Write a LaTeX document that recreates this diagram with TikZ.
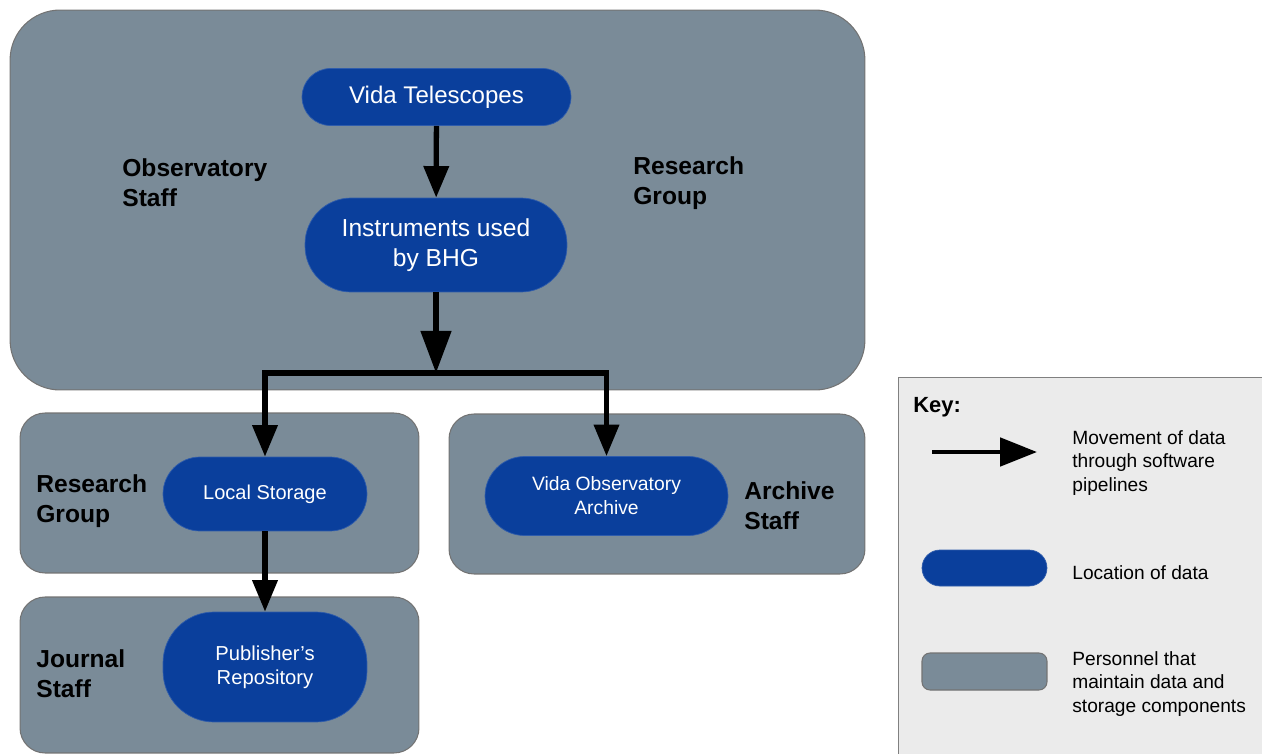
\documentclass[tikz,border=0pt]{standalone}
\usepackage{fontspec}
\setmainfont{Liberation Sans}
\usepackage{tikz}
\usetikzlibrary{arrows.meta}
\definecolor{staffgray}{HTML}{7A8B98}
\definecolor{datablue}{HTML}{0A3F9C}
\definecolor{keygray}{HTML}{EBEBEB}

\tikzset{
  staffbox/.style={draw=black!55, line width=0.6pt, fill=staffgray, inner sep=0pt},
  datapill/.style={draw=datablue!85!white, fill=datablue, text=white, align=center, inner sep=0pt},
  flow/.style={line width=3pt, -{Triangle[length=18pt,width=14pt]}},
  staffname/.style={anchor=west, align=left, inner sep=0pt, font=\fontsize{14}{17}\selectfont\bfseries},
  keytext/.style={anchor=west, align=left, inner sep=0pt, font=\fontsize{10.9}{13.6}\selectfont},
}

\begin{document}
\begin{tikzpicture}[x=0.02cm, y=-0.02cm]
    \clip (0,0) rectangle (1262,754);

    % Personnel boxes
    \node [staffbox, minimum width=17.1cm, minimum height=7.6cm, rounded corners=1cm] (obs) at (437.5,200) {};
    \node [staffbox, minimum width=7.98cm, minimum height=3.2cm, rounded corners=0.5cm] (research) at (219.5,493) {};
    \node [staffbox, minimum width=8.32cm, minimum height=3.2cm, rounded corners=0.5cm] (archive) at (657,494) {};
    \node [staffbox, minimum width=7.98cm, minimum height=3.12cm, rounded corners=0.5cm] (journal) at (219.5,675) {};

    \node [staffname] (obslabel) at (122,183) {Observatory\\Staff};
    \node [staffname] (grplabel) at (633,183) {Research\\Group};
    \node [staffname] (reslabel) at (36,501) {Research\\Group};
    \node [staffname] (arclabel) at (744,506) {Archive\\Staff};
    \node [staffname] (jnllabel) at (36,674) {Journal\\Staff};

    % Locations of data
    \node [datapill, minimum width=5.38cm, minimum height=1.14cm, rounded corners=0.57cm,
      font=\fontsize{13.7}{17}\selectfont] (tele) at (436.5,97) {Vida Telescopes};
    \node [datapill, minimum width=5.24cm, minimum height=1.88cm, rounded corners=0.92cm,
      font=\fontsize{14}{17}\selectfont] (instr) at (436,245) {Instruments used\\by BHG};
    \node [datapill, minimum width=4.08cm, minimum height=1.48cm, rounded corners=0.74cm,
      font=\fontsize{11.4}{13.6}\selectfont] (local) at (265,494) {Local Storage};
    \node [datapill, minimum width=4.86cm, minimum height=1.58cm, rounded corners=0.79cm,
      font=\fontsize{11}{13.6}\selectfont] (voa) at (606.5,496) {Vida Observatory\\Archive};
    \node [datapill, minimum width=4.08cm, minimum height=2.2cm, rounded corners=1.02cm,
      font=\fontsize{11.5}{13.6}\selectfont] (pub) at (265,667) {Publisher's\\Repository};

    % Data flow
    \coordinate (split) at (436,373);
    \draw [flow] (tele) -- (instr);
    \draw [flow, -{Triangle[length=24pt,width=17pt]}] (instr) -- (split);
    \draw [flow] (split) -| (local.north);
    \draw [flow] (split) -| (voa.north);
    \draw [flow] (local) -- (pub);

    % Key
    \node [draw=black!50, line width=0.6pt, fill=keygray, anchor=north west,
      minimum width=7.8cm, minimum height=8cm] (key) at (898,377) {};
    \node [anchor=west, inner sep=0pt, font=\fontsize{12.5}{15}\selectfont\bfseries] (keytitle) at (913,407) {Key:};
    \coordinate (keyA) at (932,452);
    \coordinate (keyB) at (1037,452);
    \draw [line width=2.5pt, -{Triangle[length=21pt,width=16pt]}] (keyA) -- (keyB);
    \node [keytext] (keyflow) at (1072,463) {Movement of data\\through software\\pipelines};
    \node [keytext] (keyloc) at (1072,573) {Location of data};
    \node [datapill, minimum width=2.5cm, minimum height=0.72cm, rounded corners=0.36cm] (keypill) at (984.5,568) {};
    \node [staffbox, minimum width=2.5cm, minimum height=0.74cm, rounded corners=0.16cm] (keybox) at (984.5,671.5) {};
    \node [keytext] (keystaff) at (1072,684) {Personnel that\\maintain data and\\storage components};
\end{tikzpicture}
\end{document}
